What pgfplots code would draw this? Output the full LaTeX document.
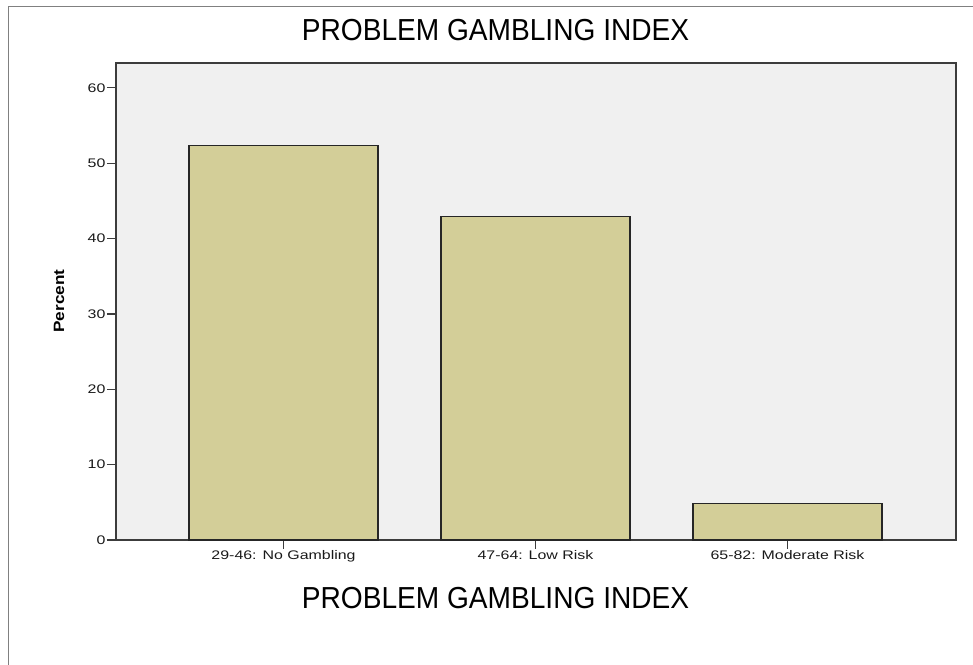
\documentclass[border=0pt]{standalone}
\usepackage{pgfplots}
\pgfplotsset{compat=1.18}
\usepackage{fontspec}
\setmainfont{Liberation Sans}
\definecolor{barfill}{RGB}{211,206,152}
\definecolor{plotbg}{RGB}{240,240,240}
\definecolor{axisc}{RGB}{60,60,60}
\definecolor{framec}{RGB}{128,128,128}
\begin{document}
\begin{tikzpicture}[x=1bp,y=1bp]
\useasboundingbox (0,0) rectangle (973,665);
\draw[framec, line width=1bp] (8,0) -- (8,658) -- (973,658);
\begin{axis}[
  at={(116bp,125bp)}, anchor=south west,
  scale only axis, width=840bp, height=477bp,
  xmin=-0.665, xmax=2.669, ymin=0, ymax=63.3,
  ybar, bar width=0.75,
  axis background/.style={fill=plotbg},
  axis line style={axisc, line width=1.3bp},
  xtick=data,
  xticklabels={29-46: No Gambling, 47-64: Low Risk, 65-82: Moderate Risk},
  ytick={0,10,...,60},
  xtick pos=bottom, ytick pos=left,
  tick align=outside,
  major tick length=9bp,
  tick style={axisc, line width=1.2bp},
  /pgf/number format/assume math mode=true,
  tick label style={font=\fontsize{12.5}{14}\selectfont, text=black!90, xscale=1.28},
  yticklabel style={inner sep=1bp},
  xticklabel style={inner sep=1bp},
  title={PROBLEM GAMBLING INDEX},
  title style={at={(axis description cs:0.4518,1.0566)}, anchor=center, font=\fontsize{30.5}{32}\selectfont, xscale=0.925},
  xlabel={PROBLEM GAMBLING INDEX},
  xlabel style={at={(axis description cs:0.4518,-0.1216)}, anchor=center, font=\fontsize{30.5}{32}\selectfont, xscale=0.925},
  ylabel={Percent},
  ylabel style={at={(axis description cs:-0.0679,0.501)}, anchor=center, font=\bfseries\fontsize{15}{17}\selectfont, xscale=1.15},
  clip=false,
]
\addplot[fill=barfill, draw=black!85, line width=1.2bp] coordinates {(0,52.4) (1,42.9) (2,4.8)};
\end{axis}
\end{tikzpicture}
\end{document}
